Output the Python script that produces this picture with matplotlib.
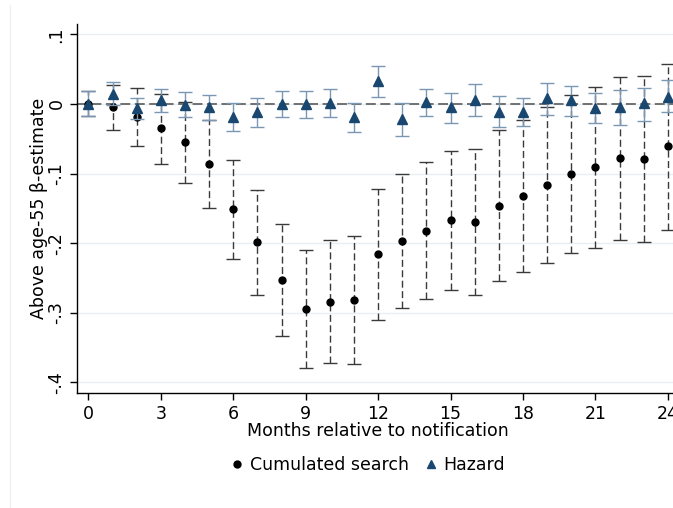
#!/usr/bin/env python
import numpy as np
from matplotlib import pyplot as plt
from matplotlib.lines import Line2D
import matplotlib as mpl

mpl.rc('font', size=12.5, family='DejaVu Sans')

months = np.arange(0, 25)

# Cumulated search: point estimate and 95% CI
cum_est = [0.000, -0.005, -0.019, -0.035, -0.055, -0.086, -0.151, -0.199, -0.253,
           -0.295, -0.285, -0.282, -0.216, -0.197, -0.182, -0.167, -0.169, -0.147,
           -0.133, -0.117, -0.101, -0.091, -0.078, -0.079, -0.061]
cum_lo = [-0.018, -0.037, -0.061, -0.086, -0.113, -0.150, -0.223, -0.275, -0.333,
          -0.379, -0.373, -0.374, -0.310, -0.293, -0.281, -0.268, -0.274, -0.254,
          -0.242, -0.229, -0.215, -0.207, -0.196, -0.198, -0.181]
cum_hi = [0.018, 0.027, 0.023, 0.015, 0.003, -0.023, -0.080, -0.123, -0.172,
          -0.210, -0.196, -0.190, -0.122, -0.101, -0.083, -0.067, -0.065, -0.038,
          -0.023, -0.005, 0.013, 0.025, 0.039, 0.040, 0.058]

# Hazard: point estimate and 95% CI
haz_est = [0.000, 0.015, -0.006, 0.005, -0.001, -0.005, -0.019, -0.012, 0.000,
           0.000, 0.001, -0.019, 0.033, -0.022, 0.003, -0.004, 0.006, -0.011,
           -0.011, 0.008, 0.005, -0.006, -0.004, 0.001, 0.010]
haz_lo = [-0.018, -0.001, -0.021, -0.012, -0.019, -0.023, -0.039, -0.033, -0.019,
          -0.020, -0.019, -0.040, 0.010, -0.046, -0.018, -0.027, -0.017, -0.033,
          -0.032, -0.016, -0.017, -0.027, -0.030, -0.024, -0.011]
haz_hi = [0.018, 0.031, 0.009, 0.021, 0.017, 0.013, 0.001, 0.008, 0.019,
          0.019, 0.021, 0.001, 0.055, 0.001, 0.022, 0.016, 0.028, 0.012,
          0.008, 0.030, 0.026, 0.016, 0.020, 0.023, 0.034]

yticks = [-0.4, -0.3, -0.2, -0.1, 0.0, 0.1]
ytick_labels = ['-.4', '-.3', '-.2', '-.1', '0', '.1']

navy = '#1a476f'
ci_blue = '#7a98b4'

fig = plt.figure(figsize=(6.73, 5.08), dpi=100, facecolor='white')
ax = fig.add_axes([0.1149, 0.2258, 0.894, 0.727])

# faint outer graph-region border
fig.add_artist(Line2D([0.0143, 0.0143], [0.0, 0.99], transform=fig.transFigure,
                      color='#eef2f4', lw=1.0))

for y in yticks:
    ax.axhline(y, color='#e8eff2', lw=1.0, zorder=0)
ax.axhline(0, color='#666666', lw=1.3, ls=(0, (5.5, 2.5)), zorder=1)

cum_est = np.array(cum_est)
haz_est = np.array(haz_est)

eb = ax.errorbar(months, cum_est, yerr=[cum_est - cum_lo, np.array(cum_hi) - cum_est],
                 fmt='none', ecolor='#3a3a3a', elinewidth=1.0, capsize=5,
                 capthick=1.0, zorder=2)
eb[2][0].set_linestyle((0, (5, 2.5)))
ax.plot(months, cum_est, 'o', color='black', ms=5, zorder=3)

ax.errorbar(months, haz_est, yerr=[haz_est - haz_lo, np.array(haz_hi) - haz_est],
            fmt='none', ecolor=ci_blue, elinewidth=1.0, capsize=5,
            capthick=1.0, zorder=4)
ax.plot(months, haz_est, '^', color=navy, ms=6.5, zorder=5)

ax.set_xlim(-0.46, 24.46)
ax.set_ylim(-0.416, 0.115)
ax.set_xticks(np.arange(0, 25, 3))
ax.set_yticks(yticks)
ax.set_yticklabels(ytick_labels, rotation=90, va='center')
ax.tick_params(direction='out', length=5, width=1.0, colors='black')
for side in ['top', 'right']:
    ax.spines[side].set_visible(False)
for side in ['left', 'bottom']:
    ax.spines[side].set_linewidth(1.0)

ax.set_xlabel('Months relative to notification', labelpad=-1)
ax.set_ylabel('Above age-55 β-estimate', labelpad=0)

handles = [Line2D([], [], ls='none', marker='o', color='black', ms=5),
           Line2D([], [], ls='none', marker='^', color=navy, ms=6)]
fig.legend(handles, ['Cumulated search', 'Hazard'], loc='center',
           bbox_to_anchor=(0.545, 0.085), ncol=2, frameon=False,
           handletextpad=0.2, columnspacing=0.8, handlelength=1.0)

plt.savefig('out.png', dpi=100)
